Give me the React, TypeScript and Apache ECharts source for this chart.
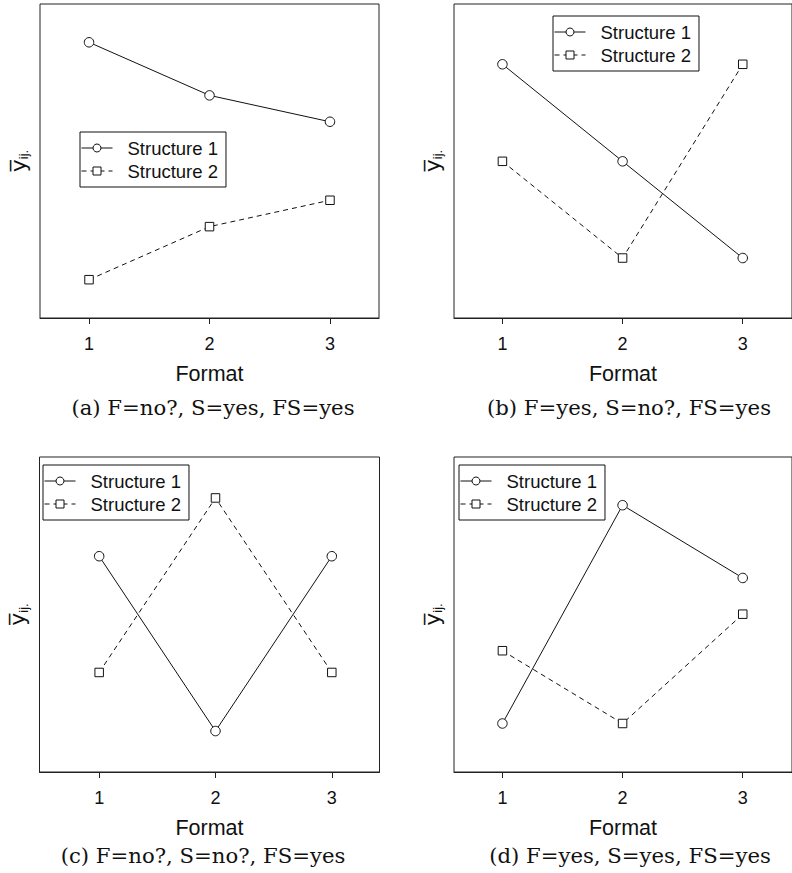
import React, { useEffect, useRef } from 'react';
import * as echarts from 'echarts';

// ---- data ----
const formats = [1, 2, 3];
const tickValues = [1, 2, 3];
const seriesNames = ['Structure 1', 'Structure 2'];
const panelA_s1 = [87.8, 70.9, 62.5];
const panelA_s2 = [12.2, 29.1, 37.5];
const panelB_s1 = [80.8, 49.9, 19.1];
const panelB_s2 = [49.9, 19.1, 80.8];
const panelC_s1 = [68.5, 13.0, 68.5];
const panelC_s2 = [31.6, 87.0, 31.6];
const panelD_s1 = [15.4, 84.7, 61.6];
const panelD_s2 = [38.5, 15.4, 50.1];
const captions = [
  '(a) F=no?, S=yes, FS=yes',
  '(b) F=yes, S=no?, FS=yes',
  '(c) F=no?, S=no?, FS=yes',
  '(d) F=yes, S=yes, FS=yes',
];
const xAxisName = 'Format';
const yMain = 'y\u0305';
const ySub = 'ij.';

// ---- layout ----
const SANS = '"Liberation Sans", Arial, Helvetica, sans-serif';
const YFONT = '"DejaVu Sans", "Liberation Sans", sans-serif';
const SERIF = '"DejaVu Serif", serif';
const panels = [
  { s1: panelA_s1, s2: panelA_s2, grid: { left: 40, top: 4, width: 339, height: 314 }, xMin: 0.593, xMax: 3.407, legend: { left: 80, top: 132 }, cap: { x: 213, y: 407 } },
  { s1: panelB_s1, s2: panelB_s2, grid: { left: 454, top: 4, width: 340, height: 314 }, xMin: 0.597, xMax: 3.41, legend: { left: 553, top: 16 }, cap: { x: 629, y: 407 } },
  { s1: panelC_s1, s2: panelC_s2, grid: { left: 39.5, top: 457, width: 340, height: 315 }, xMin: 0.487, xMax: 3.41, legend: { left: 43, top: 465 }, cap: { x: 203, y: 855 } },
  { s1: panelD_s1, s2: panelD_s2, grid: { left: 454, top: 457, width: 340, height: 315 }, xMin: 0.597, xMax: 3.41, legend: { left: 459, top: 465 }, cap: { x: 630, y: 855 } },
];

export default function App() {
  const ref = useRef<HTMLDivElement>(null);
  useEffect(() => {
    if (!ref.current) return;
    const chart = echarts.init(ref.current, null, { renderer: 'svg' });
    const grid: any[] = [];
    const xAxis: any[] = [];
    const yAxis: any[] = [];
    const series: any[] = [];
    const legend: any[] = [];
    const graphic: any[] = [];
    panels.forEach((p, i) => {
      grid.push({ ...p.grid, show: true, borderColor: '#222', borderWidth: 1, backgroundColor: 'transparent', containLabel: false });
      xAxis.push({
        gridIndex: i, type: 'value', min: p.xMin, max: p.xMax,
        splitLine: { show: false },
        axisLine: { show: true, lineStyle: { color: '#222', width: 1 } },
        axisTick: { show: true, customValues: tickValues, length: 6, lineStyle: { color: '#222' } },
        axisLabel: { customValues: tickValues, fontSize: 18, fontFamily: SANS, color: '#111', margin: 17 },
        name: xAxisName, nameLocation: 'middle', nameGap: 45,
        nameTextStyle: { fontSize: 21.5, fontFamily: SANS, color: '#111' },
      });
      yAxis.push({
        gridIndex: i, type: 'value', min: 0, max: 100,
        splitLine: { show: false }, axisLine: { show: false }, axisTick: { show: false }, axisLabel: { show: false },
        name: `{y|${yMain}}{s|${ySub}}`, nameLocation: 'middle', nameRotate: 90, nameGap: 10,
        nameTextStyle: {
          color: '#111', fontSize: 22, fontFamily: YFONT,
          rich: {
            y: { fontSize: 22, fontFamily: YFONT, color: '#111', lineHeight: 24 },
            s: { fontSize: 13, fontFamily: SANS, color: '#111', lineHeight: 13, verticalAlign: 'bottom' },
          },
        },
      });
      [p.s1, p.s2].forEach((vals, k) => {
        series.push({
          type: 'line', name: seriesNames[k], xAxisIndex: i, yAxisIndex: i,
          data: formats.map((f, j) => [f, vals[j]]),
          symbol: k === 0 ? 'circle' : 'rect', symbolSize: k === 0 ? 9.5 : 8.5,
          itemStyle: { color: '#fff', borderColor: '#111', borderWidth: 1 },
          lineStyle: { color: '#111', width: 1, type: k === 0 ? 'solid' : [5, 4] },
          emphasis: { disabled: true }, silent: true,
        });
      });
      legend.push({
        orient: 'vertical', left: p.legend.left, top: p.legend.top,
        data: seriesNames,
        borderColor: '#111', borderWidth: 1, padding: [6, 8, 6, 1],
        itemWidth: 31, itemHeight: 10, itemGap: 3,
        selectedMode: false,
        lineStyle: { width: 1 },
        itemStyle: { borderWidth: 1 },
        formatter: (n: string) => `{t|${n}}`,
        textStyle: {
          fontSize: 18.5, fontFamily: SANS, color: '#111', lineHeight: 20,
          rich: { t: { fontSize: 18.5, fontFamily: SANS, color: '#111', lineHeight: 20, padding: [0, 0, 0, 10] } },
        },
      });
      graphic.push({
        type: 'text', x: p.cap.x, y: p.cap.y,
        style: { text: captions[i], fontSize: 21.2, fontFamily: SERIF, fill: '#111', align: 'center', verticalAlign: 'middle' },
      });
    });
    chart.setOption({ animation: false, backgroundColor: '#fff', grid, xAxis, yAxis, series, legend, graphic });
    return () => chart.dispose();
  }, []);
  return <div ref={ref} style={{ position: 'absolute', left: 0, top: 0, width: 792, height: 873, background: '#fff' }} />;
}
